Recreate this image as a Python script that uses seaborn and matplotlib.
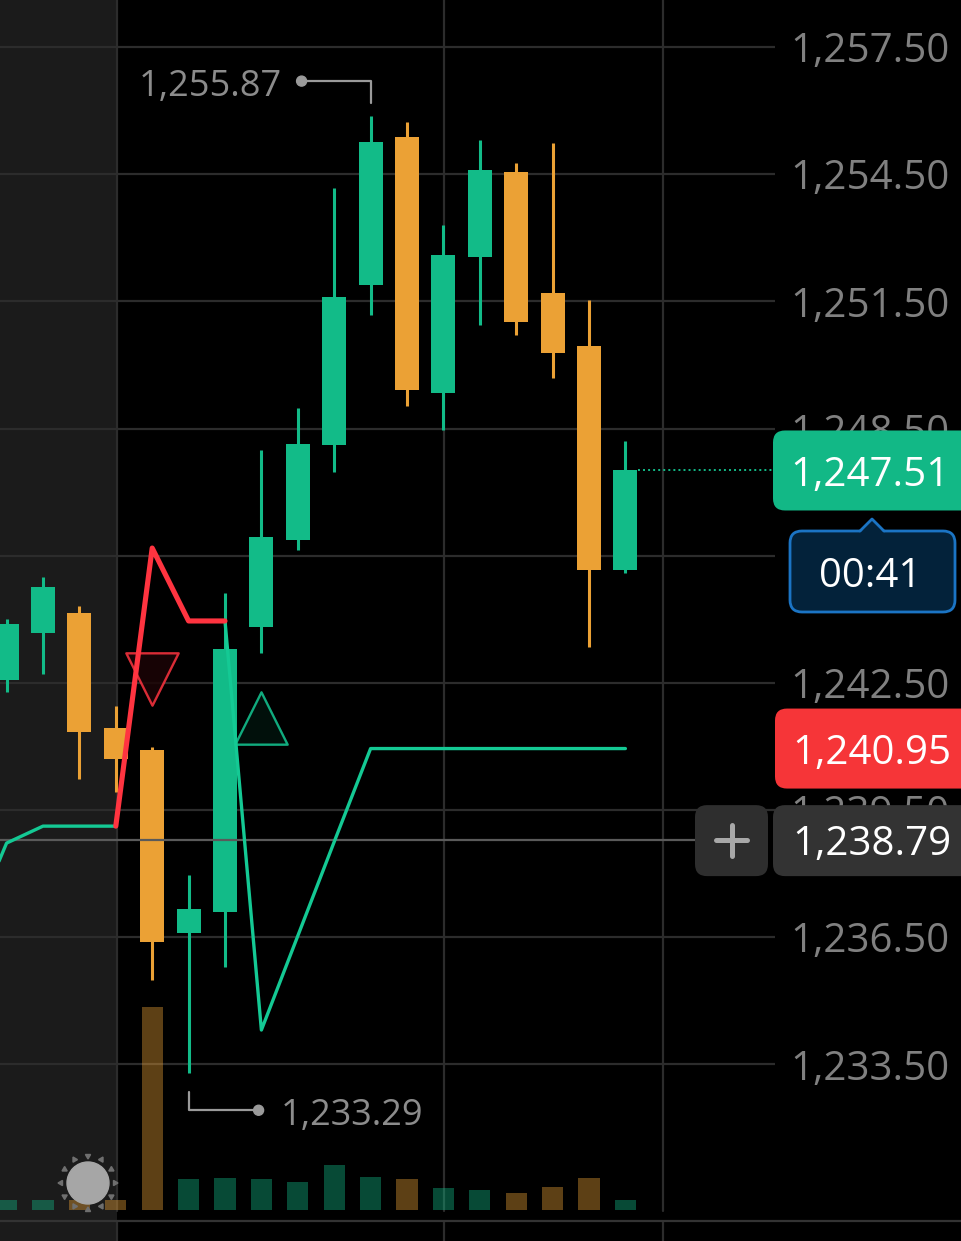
import numpy as np
import pandas as pd
import matplotlib
matplotlib.use("Agg")
import matplotlib.pyplot as plt
import seaborn as sns
from matplotlib.patches import FancyBboxPatch, Circle, Polygon, RegularPolygon
from matplotlib.lines import Line2D
from matplotlib.transforms import Affine2D

# --- candle data ---
opens = [1242.57, 1243.68, 1244.15, 1241.43, 1240.92, 1236.60, 1237.09, 1243.82, 1245.87,
         1248.11, 1251.89, 1255.38, 1249.34, 1252.55, 1254.55, 1251.70, 1250.45, 1245.16]
highs = [1244.01, 1245.00, 1244.31, 1241.95, 1240.99, 1237.97, 1244.62, 1247.99, 1248.98,
         1254.17, 1255.87, 1255.73, 1253.30, 1255.31, 1254.76, 1255.24, 1251.53, 1248.21]
lows = [1242.28, 1242.71, 1240.23, 1239.93, 1235.49, 1233.29, 1235.80, 1243.20, 1245.63,
        1247.47, 1251.18, 1249.03, 1248.46, 1250.94, 1250.71, 1249.69, 1243.35, 1245.09]
closes = [1243.89, 1244.76, 1241.34, 1240.70, 1236.39, 1237.16, 1243.30, 1245.94, 1248.13,
          1251.60, 1255.26, 1249.41, 1252.59, 1254.60, 1251.01, 1250.28, 1245.16, 1247.51]
volumes = [0.5, 0.5, 0.5, 0.5, 10.15, 1.55, 1.59, 1.55, 1.39, 2.24, 1.64, 1.54, 1.09,
           0.99, 0.84, 1.14, 1.59, 0.5]

# supertrend segments
up1_idx = [-1, 0, 1, 2, 3]
up1_val = [1236.67, 1238.72, 1239.12, 1239.12, 1239.12]
down_idx = [3, 4, 5, 6]
down_val = [1239.12, 1245.68, 1243.96, 1243.96]
up2_idx = [6, 7, 8, 9, 10, 11, 12, 13, 14, 15, 16, 17]
up2_val = [1243.96, 1234.31, 1236.53, 1238.75, 1240.95, 1240.95, 1240.95, 1240.95,
           1240.95, 1240.95, 1240.95, 1240.95]

sell_idx, sell_price = [4], [1242.58]
buy_idx, buy_price = [7], [1241.66]

tick_vals = [1233.5, 1236.5, 1239.5, 1242.5, 1245.5, 1248.5, 1251.5, 1254.5, 1257.5]
crosshair_price = 1238.79
timer_text = "00:41"

W, H = 961, 1241
PLOT_W = 775
BG = "#000000"
GREEN = "#12bb88"
ORANGE = "#eba135"
RED = "#ff3440"
GRID = "#2c2c2c"
XLIM = (-0.181, 21.11)
YLIM = (1229.333, 1258.609)
TXT_DY = 5  # text baseline nudge in px

sns.set_theme(style="dark")
plt.rcParams["font.family"] = ["Open Sans", "DejaVu Sans"]

fig = plt.figure(figsize=(W / 100, H / 100), dpi=100, facecolor=BG)
ax = fig.add_axes([0, 0, PLOT_W / W, 1])
ax.set_facecolor(BG)
for s in ax.spines.values():
    s.set_visible(False)

# pixel transform (origin top-left)
T = Affine2D().scale(0.01, -0.01).translate(0, H / 100) + fig.dpi_scale_trans


def px_x(i):
    return (i - XLIM[0]) / (XLIM[1] - XLIM[0]) * PLOT_W


def px_y(p):
    return (YLIM[1] - p) / (YLIM[1] - YLIM[0]) * H


# volume on twin axis
ax2 = ax.twinx()
ax2.set_ylim(-31 / 20, 1210 / 20)
ax2.set_yticks([])
ax2.grid(False)
for s in ax2.spines.values():
    s.set_visible(False)
vol_colors = [GREEN if c >= o else ORANGE for o, c in zip(opens, closes)]
ax2.bar(range(len(volumes)), volumes, width=0.58, color=vol_colors, alpha=0.4, lw=0)

# grid + right price scale
ax.set_axisbelow(True)
ax.set_yticks(tick_vals)
ax.set_yticklabels([f"{v:,.2f}" for v in tick_vals])
ax.yaxis.tick_right()
ax.set_xticks([])
ax.yaxis.grid(True, color=GRID, lw=1.6)
ax.xaxis.grid(False)
ax.tick_params(axis="y", left=False, labelleft=False, right=False, labelright=True,
               length=0, pad=10.8, labelsize=29, labelcolor="#808080")

ax.axvspan(XLIM[0], 3.03, color="#1b1b1b", lw=0, zorder=0)
for xv in [3.03, 12.02, 18.03]:
    ax.axvline(xv, ymin=1 - 1211 / H, ymax=1, color=GRID, lw=1.6, zorder=0.6)
    ax.axvline(xv, ymin=0, ymax=1 - 1221 / H, color=GRID, lw=1.6, zorder=0.6)

# candles
for i, (o, h, l, c) in enumerate(zip(opens, highs, lows, closes)):
    col = GREEN if c >= o else ORANGE
    ax.vlines(i, l, h, color=col, lw=2.2, zorder=3)
    ax.bar(i, abs(c - o), bottom=min(o, c), width=0.66, color=col, lw=0, zorder=4)

# crosshair + last price dotted line
ax.axhline(crosshair_price, xmin=0, xmax=695 / PLOT_W, color="#5a5a5a", lw=1.6, zorder=5)
ax.hlines(closes[-1], len(closes) - 1 + 0.35, XLIM[1], colors=GREEN,
          linestyles=(0, (1, 1.6)), lw=1.4, zorder=5)

# supertrend
st = pd.DataFrame({
    "idx": up1_idx + up2_idx,
    "val": up1_val + up2_val,
    "seg": [0] * len(up1_idx) + [1] * len(up2_idx),
})
sns.lineplot(data=st, x="idx", y="val", units="seg", estimator=None, sort=False,
             color="#14c994", lw=2.4, ax=ax, zorder=6)
sns.lineplot(x=down_idx, y=down_val, sort=False, color=RED, lw=3.7, ax=ax, zorder=6)

# signals
sns.scatterplot(x=sell_idx, y=sell_price, marker="v", s=1420, color="#1c0406",
                edgecolor=RED, linewidth=1.7, ax=ax, zorder=5.5, alpha=0.85)
sns.scatterplot(x=buy_idx, y=buy_price, marker="^", s=1420, color="#02140e",
                edgecolor="#14c994", linewidth=1.7, ax=ax, zorder=5.5, alpha=0.85)
ax.set_xlabel("")
ax.set_ylabel("")
ax.set_xlim(*XLIM)
ax.set_ylim(*YLIM)

# high / low annotations
LBL = "#8c8c8c"
hi_i = int(np.argmax(highs))
hx, hy = px_x(hi_i), px_y(highs[hi_i])
fig.add_artist(Line2D([hx, hx, hx - 69], [hy - 13, hy - 35, hy - 35], transform=T,
                      color="#9a9a9a", lw=1.6))
fig.add_artist(Circle((hx - 69, hy - 35), 5, transform=T, color="#9a9a9a"))
fig.text(hx - 89, hy - 34 + TXT_DY, f"{highs[hi_i]:,.2f}", transform=T, ha="right",
         va="center", fontsize=26, color=LBL)

lo_i = int(np.argmin(lows))
lx, ly = px_x(lo_i), px_y(lows[lo_i])
fig.add_artist(Line2D([lx, lx, lx + 70], [ly + 19, ly + 37, ly + 37], transform=T,
                      color="#9a9a9a", lw=1.6))
fig.add_artist(Circle((lx + 70, ly + 37), 5, transform=T, color="#9a9a9a"))
fig.text(lx + 92, ly + 38 + TXT_DY, f"{lows[lo_i]:,.2f}", transform=T, ha="left",
         va="center", fontsize=26, color=LBL)

# bottom separator
fig.add_artist(Line2D([0, W], [1221, 1221], transform=T, color="#333333", lw=1.6))

# sun icon
fig.add_artist(Circle((88, 1183), 21, transform=T, color="#a6a6a6"))
for a in np.linspace(0, 2 * np.pi, 12, endpoint=False):
    fig.add_artist(RegularPolygon((88 + 27 * np.sin(a), 1183 - 27 * np.cos(a)), 3, radius=3,
                                  orientation=-a, transform=T, color="#6f6f6f"))


def rbox(x0, y0, x1, y1, fc, ec="none", lw=0):
    fig.add_artist(FancyBboxPatch((x0, y0), x1 - x0, y1 - y0,
                                  boxstyle="round,pad=0,rounding_size=12",
                                  transform=T, fc=fc, ec=ec, lw=lw))


# last price box
cy = px_y(closes[-1])
rbox(773, cy - 40, 1000, cy + 40, "#12b886")
fig.text(870, cy + TXT_DY, f"{closes[-1]:,.2f}", transform=T, ha="center", va="center",
         fontsize=29, color="white")

# countdown box
rbox(790, 531, 955, 612, "#03223a", "#1b74c4", 2)
fig.add_artist(Polygon([(860, 533), (872, 519), (884, 533)], closed=True, transform=T,
                       fc="#03223a", ec="none"))
fig.add_artist(Line2D([860, 872, 884], [531, 519, 531], transform=T, color="#1b74c4", lw=2))
fig.text(870, 572 + TXT_DY, timer_text, transform=T, ha="center", va="center",
         fontsize=29, color="white")

# supertrend value box
sy = px_y(up2_val[-1])
rbox(775, sy - 40, 1000, sy + 40, "#f63538")
fig.text(872, sy + TXT_DY, f"{up2_val[-1]:,.2f}", transform=T, ha="center", va="center",
         fontsize=29, color="white")

# crosshair box + plus button
chy = px_y(crosshair_price)
rbox(773, chy - 35, 1000, chy + 36, "#333333")
fig.text(872, chy + TXT_DY, f"{crosshair_price:,.2f}", transform=T, ha="center",
         va="center", fontsize=29, color="white")
rbox(695, chy - 35, 768, chy + 36, "#2e2e2e")
fig.add_artist(Line2D([716, 747], [chy, chy], transform=T, color="#a8a8a8", lw=3.6))
fig.add_artist(Line2D([731.5, 731.5], [chy - 15, chy + 16], transform=T, color="#a8a8a8", lw=3.6))

fig.savefig("out.png", dpi=100, facecolor=BG)
